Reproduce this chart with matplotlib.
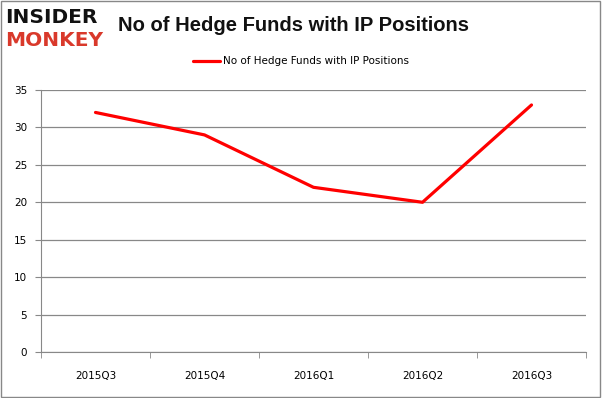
import numpy as np
import matplotlib.pyplot as plt

quarters = ['2015Q3', '2015Q4', '2016Q1', '2016Q2', '2016Q3']
hedge_funds = [32, 29, 22, 20, 33]
yticks = [0, 5, 10, 15, 20, 25, 30, 35]

fig = plt.figure(figsize=(6.02, 3.98), dpi=100)
ax = fig.add_axes([41/602, 1-352/398, 545/602, 262/398])

x = np.arange(len(quarters))
ax.plot(x, hedge_funds, color='#ff0000', linewidth=2.3, solid_capstyle='round',
        label='No of Hedge Funds with IP Positions', zorder=3)

ax.set_xlim(-0.5, len(quarters) - 0.5)
ax.set_ylim(0, 35)
ax.set_yticks(yticks)
ax.set_xticks(x)
ax.set_xticklabels(quarters)
ax.set_xticks(np.arange(-0.5, len(quarters)), minor=True)
ax.tick_params(axis='x', which='major', length=0, pad=14, labelsize=7.5)
ax.tick_params(axis='x', which='minor', length=4, color='#888888')
ax.tick_params(axis='y', length=4, color='#888888', labelsize=7.5, pad=6)
ax.grid(axis='y', color='#888888', linewidth=0.9)
for s in ['top', 'right']:
    ax.spines[s].set_visible(False)
for s in ['left', 'bottom']:
    ax.spines[s].set_color('#888888')

ax.legend(loc='center', bbox_to_anchor=(0.477, 1.11), frameon=False, fontsize=7.5,
          handlelength=2.6, handletextpad=0.3)

fig.text(0.487, 0.935, 'No of Hedge Funds with IP Positions', ha='center', va='center',
         fontsize=14.5, fontweight='bold', color='#111111', family='Liberation Sans')
fig.text(0.008, 0.955, 'INSIDER', ha='left', va='center', fontsize=14.5,
         fontweight='bold', color='#111111')
fig.text(0.008, 0.898, 'MONKEY', ha='left', va='center', fontsize=14.5,
         fontweight='bold', color='#d9392b')

fig.patches.append(plt.Rectangle((0.001, 0.002), 0.996, 0.995, transform=fig.transFigure,
                                 fill=False, edgecolor='#888888', linewidth=1))

fig.savefig('out.png', dpi=100)
